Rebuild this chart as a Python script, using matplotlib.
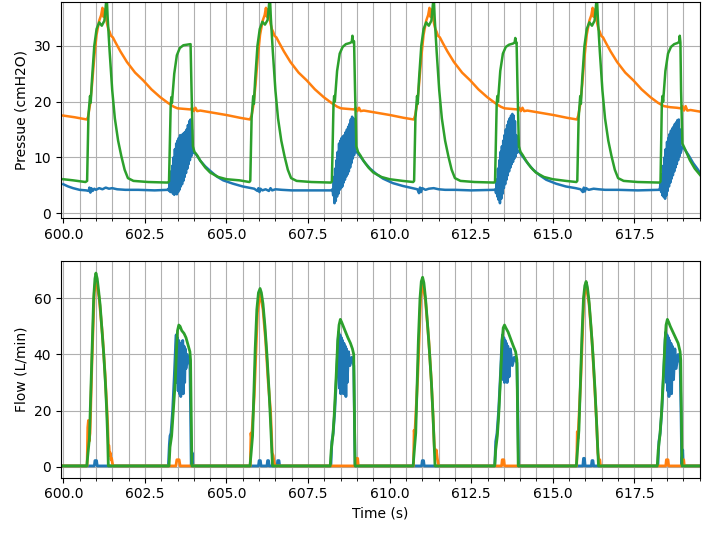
import matplotlib
matplotlib.use("Agg")
import matplotlib.pyplot as plt
from matplotlib.ticker import MultipleLocator

# ---------------- Pressure panel data (time s, cmH2O) ----------------
P_BLUE = [
    (600.00, 5.2), (600.15, 4.8), (600.30, 4.5), (600.50, 4.2), (600.70, 4.1), (600.78, 4.0),
    (600.80, 4.6), (600.83, 3.7), (600.86, 4.5), (600.90, 4.0), (600.95, 4.4), (601.00, 4.2),
    (601.10, 4.5), (601.20, 4.3), (601.30, 4.6), (601.40, 4.4), (601.50, 4.5), (601.65, 4.3),
    (601.90, 4.2), (602.30, 4.2), (602.80, 4.1), (603.20, 4.2),
    (603.22, 4.4), (603.24, 4.0), (603.26, 6.0), (603.28, 3.8), (603.30, 7.5), (603.32, 4.0),
    (603.34, 8.5), (603.36, 3.5), (603.38, 10.0), (603.40, 3.3), (603.42, 11.5), (603.44, 3.6),
    (603.46, 12.5), (603.48, 3.4), (603.50, 13.0), (603.52, 3.8), (603.54, 13.5), (603.56, 4.2),
    (603.58, 14.0), (603.60, 4.8), (603.62, 13.8), (603.64, 5.2), (603.66, 14.2), (603.68, 5.8),
    (603.70, 14.4), (603.72, 6.5), (603.74, 14.6), (603.76, 7.2), (603.78, 15.0), (603.80, 8.0),
    (603.82, 15.8), (603.84, 8.8), (603.86, 16.5), (603.88, 9.5), (603.90, 16.8), (603.92, 10.2),
    (603.94, 15.0), (603.96, 11.0), (604.00, 10.8), (604.05, 10.7), (604.10, 10.3), (604.20, 9.4),
    (604.35, 8.4), (604.50, 7.6), (604.70, 6.6), (604.90, 5.9), (605.20, 5.3), (605.50, 4.8),
    (605.75, 4.5), (605.85, 4.4), (605.95, 4.0), (605.98, 4.5), (606.01, 3.8), (606.04, 4.4),
    (606.10, 4.1), (606.20, 4.3), (606.30, 4.0), (606.35, 4.5), (606.40, 4.1), (606.50, 4.3),
    (606.70, 4.2), (607.00, 4.1), (607.50, 4.1), (608.20, 4.1),
    (608.25, 4.3), (608.27, 3.2), (608.29, 6.5), (608.31, 1.8), (608.33, 8.0), (608.35, 2.2),
    (608.37, 9.5), (608.39, 3.0), (608.41, 11.0), (608.43, 3.5), (608.45, 12.5), (608.47, 4.2),
    (608.49, 13.0), (608.51, 4.5), (608.53, 13.5), (608.55, 4.8), (608.57, 13.8), (608.59, 5.5),
    (608.61, 14.0), (608.63, 6.0), (608.65, 14.5), (608.67, 6.6), (608.69, 15.0), (608.71, 7.0),
    (608.73, 15.5), (608.75, 7.5), (608.77, 16.0), (608.79, 8.2), (608.81, 16.8), (608.83, 9.0),
    (608.85, 17.3), (608.87, 9.8), (608.89, 17.0), (608.91, 10.4), (608.93, 15.5), (608.95, 11.0),
    (609.00, 10.9), (609.10, 10.2), (609.25, 9.0), (609.40, 8.0), (609.60, 7.0), (609.80, 6.2),
    (610.10, 5.4), (610.40, 4.9), (610.70, 4.5), (610.85, 4.3), (610.90, 3.6), (610.93, 4.6),
    (610.96, 3.8), (611.00, 4.5), (611.10, 4.2), (611.20, 4.4), (611.35, 4.5), (611.50, 4.3),
    (611.70, 4.2), (612.00, 4.2), (612.50, 4.1), (613.20, 4.2),
    (613.24, 4.3), (613.26, 3.6), (613.28, 6.0), (613.30, 3.0), (613.32, 8.0), (613.34, 2.4),
    (613.36, 9.5), (613.38, 1.8), (613.40, 11.0), (613.42, 2.6), (613.44, 12.0), (613.46, 3.5),
    (613.48, 13.0), (613.50, 4.5), (613.52, 14.0), (613.54, 5.2), (613.56, 15.0), (613.58, 6.0),
    (613.60, 15.8), (613.62, 6.8), (613.64, 16.5), (613.66, 7.5), (613.68, 17.0), (613.70, 8.2),
    (613.72, 17.5), (613.74, 8.8), (613.76, 17.8), (613.78, 9.2), (613.80, 17.5), (613.82, 9.8),
    (613.84, 16.5), (613.86, 10.2), (613.88, 14.0), (613.90, 10.8), (613.95, 11.2), (614.00, 10.8),
    (614.10, 10.0), (614.25, 8.8), (614.40, 7.8), (614.60, 6.8), (614.80, 6.0), (615.10, 5.3),
    (615.40, 4.8), (615.70, 4.5), (615.85, 4.3), (615.92, 3.8), (615.95, 4.6), (615.98, 3.9),
    (616.02, 4.5), (616.10, 4.2), (616.25, 4.4), (616.40, 4.3), (616.60, 4.2), (617.00, 4.2),
    (617.60, 4.1), (618.25, 4.2),
    (618.28, 4.3), (618.30, 5.5), (618.32, 3.8), (618.34, 7.0), (618.36, 3.2), (618.38, 8.5),
    (618.40, 2.9), (618.42, 10.0), (618.44, 2.6), (618.46, 11.5), (618.48, 3.2), (618.50, 12.8),
    (618.52, 4.0), (618.54, 13.5), (618.56, 4.8), (618.58, 14.2), (618.60, 5.5), (618.62, 14.8),
    (618.64, 6.2), (618.66, 15.2), (618.68, 6.8), (618.70, 15.5), (618.72, 7.5), (618.74, 16.0),
    (618.76, 8.2), (618.78, 16.3), (618.80, 8.8), (618.82, 16.7), (618.84, 9.5), (618.86, 16.8),
    (618.88, 10.2), (618.90, 15.0), (618.92, 10.8), (618.96, 11.8), (619.00, 11.8), (619.15, 10.5),
    (619.30, 9.0), (619.45, 7.8), (619.52, 7.1),
]

P_ORANGE = [
    (600.00, 17.5), (600.35, 17.2), (600.72, 16.8), (600.76, 17.3), (600.82, 19.5), (600.88, 23.0),
    (600.95, 28.0), (601.02, 32.0), (601.10, 34.5), (601.16, 35.5), (601.20, 36.8), (601.23, 35.2),
    (601.26, 36.5), (601.30, 35.8), (601.34, 34.0), (601.38, 33.0), (601.42, 32.5), (601.46, 31.8),
    (601.52, 31.5), (601.60, 30.6), (601.75, 29.0), (601.95, 27.1), (602.20, 25.2), (602.45, 23.8),
    (602.70, 22.2), (602.97, 20.8), (603.20, 19.8), (603.38, 19.1), (603.50, 18.8), (603.70, 18.7),
    (603.90, 18.6), (603.95, 18.9), (604.00, 18.3), (604.05, 18.9), (604.10, 18.3), (604.20, 18.4),
    (604.60, 18.0), (605.00, 17.6), (605.42, 17.1), (605.72, 16.8),
    (605.77, 17.5), (605.83, 19.5), (605.89, 23.0), (605.96, 28.0), (606.03, 32.0), (606.11, 34.5),
    (606.17, 35.5), (606.21, 36.8), (606.24, 35.2), (606.27, 36.5), (606.31, 35.8), (606.35, 34.0),
    (606.39, 33.0), (606.43, 32.5), (606.47, 31.8), (606.53, 31.5), (606.61, 30.6), (606.76, 29.0),
    (606.96, 27.1), (607.21, 25.2), (607.46, 23.8), (607.71, 22.2), (607.98, 20.8), (608.21, 19.8),
    (608.39, 19.1), (608.51, 18.8), (608.71, 18.7), (608.91, 18.6), (608.96, 18.9), (609.01, 18.3),
    (609.06, 18.9), (609.11, 18.3), (609.21, 18.4), (609.61, 18.0), (610.01, 17.6), (610.43, 17.1),
    (610.74, 16.8),
    (610.78, 17.5), (610.84, 19.5), (610.90, 23.0), (610.97, 28.0), (611.04, 32.0), (611.12, 34.5),
    (611.18, 35.5), (611.22, 36.8), (611.25, 35.2), (611.28, 36.5), (611.32, 35.8), (611.36, 34.0),
    (611.40, 33.0), (611.44, 32.5), (611.48, 31.8), (611.54, 31.5), (611.62, 30.6), (611.77, 29.0),
    (611.97, 27.1), (612.22, 25.2), (612.47, 23.8), (612.72, 22.2), (612.99, 20.8), (613.22, 19.8),
    (613.40, 19.1), (613.52, 18.8), (613.72, 18.7), (613.92, 18.6), (613.97, 18.9), (614.02, 18.3),
    (614.07, 18.9), (614.12, 18.3), (614.22, 18.4), (614.62, 18.0), (615.02, 17.6), (615.44, 17.1),
    (615.74, 16.8),
    (615.78, 17.5), (615.84, 19.5), (615.90, 23.0), (615.97, 28.0), (616.04, 32.0), (616.12, 34.5),
    (616.18, 35.5), (616.22, 36.8), (616.25, 35.2), (616.28, 36.5), (616.32, 35.8), (616.36, 34.0),
    (616.40, 33.0), (616.44, 32.5), (616.48, 31.8), (616.54, 31.5), (616.62, 30.6), (616.77, 29.0),
    (616.97, 27.1), (617.22, 25.2), (617.47, 23.8), (617.72, 22.2), (617.99, 20.8), (618.22, 19.8),
    (618.40, 19.2), (618.60, 19.0), (618.80, 18.9), (618.92, 18.8), (618.97, 19.2), (619.02, 18.4),
    (619.07, 19.2), (619.12, 18.4), (619.22, 18.5), (619.52, 18.2),
]

P_GREEN = [
    (600.00, 6.1), (600.30, 5.9), (600.68, 5.6), (600.73, 5.8), (600.77, 17.5), (600.80, 19.5),
    (600.82, 21.0), (600.84, 19.8), (600.88, 24.0), (600.95, 30.0), (601.02, 33.0), (601.10, 34.2),
    (601.18, 33.6), (601.26, 34.5), (601.30, 37.0), (601.33, 39.0), (601.36, 35.0), (601.42, 29.0),
    (601.50, 22.0), (601.58, 17.0), (601.68, 13.0), (601.78, 10.2), (601.88, 7.8), (601.98, 6.3),
    (602.15, 5.8), (602.60, 5.6), (603.20, 5.5), (603.24, 5.7), (603.29, 19.0), (603.31, 20.8),
    (603.33, 19.8), (603.40, 25.0), (603.48, 28.3), (603.57, 29.6), (603.68, 30.1), (603.80, 30.2),
    (603.90, 30.3), (603.93, 22.0), (603.97, 12.0), (604.02, 11.0), (604.10, 10.4), (604.20, 9.4),
    (604.35, 8.2), (604.50, 7.3), (604.75, 6.5), (605.00, 6.1), (605.40, 5.9), (605.70, 5.6),
    (605.73, 5.8), (605.77, 17.0), (605.80, 19.5), (605.82, 21.0), (605.84, 19.6), (605.88, 24.0),
    (605.95, 30.0), (606.02, 33.0), (606.10, 34.3), (606.18, 33.8), (606.26, 34.6), (606.30, 37.0),
    (606.33, 39.0), (606.36, 35.0), (606.42, 29.0), (606.50, 22.0), (606.58, 17.0), (606.68, 13.0),
    (606.78, 10.2), (606.88, 7.8), (606.98, 6.3), (607.15, 5.8), (607.60, 5.6), (608.20, 5.5),
    (608.23, 5.7), (608.28, 19.5), (608.30, 21.0), (608.32, 20.0), (608.39, 25.5), (608.47, 28.6),
    (608.56, 29.8), (608.66, 30.3), (608.78, 30.5), (608.84, 30.7), (608.86, 31.8), (608.88, 30.6),
    (608.91, 30.8), (608.94, 22.0), (608.98, 12.0), (609.03, 11.0), (609.10, 10.4), (609.20, 9.4),
    (609.35, 8.2), (609.50, 7.3), (609.75, 6.5), (610.00, 6.1), (610.40, 5.8), (610.72, 5.6),
    (610.75, 5.8), (610.79, 17.0), (610.82, 19.5), (610.84, 21.0), (610.86, 19.6), (610.90, 24.0),
    (610.97, 30.0), (611.04, 33.0), (611.12, 34.2), (611.20, 33.6), (611.28, 34.5), (611.32, 37.0),
    (611.35, 39.0), (611.38, 35.0), (611.44, 29.0), (611.52, 22.0), (611.60, 17.0), (611.70, 13.0),
    (611.80, 10.2), (611.90, 7.8), (612.00, 6.3), (612.17, 5.8), (612.60, 5.6), (613.20, 5.5),
    (613.23, 5.7), (613.28, 19.5), (613.30, 21.0), (613.32, 20.0), (613.39, 25.5), (613.47, 28.6),
    (613.56, 29.8), (613.66, 30.2), (613.78, 30.4), (613.83, 30.6), (613.85, 31.4), (613.87, 30.5),
    (613.89, 30.6), (613.92, 22.0), (613.96, 12.0), (614.01, 11.0), (614.08, 10.4), (614.18, 9.4),
    (614.33, 8.2), (614.48, 7.3), (614.73, 6.5), (615.00, 6.1), (615.40, 5.8), (615.72, 5.6),
    (615.75, 5.8), (615.79, 17.0), (615.82, 19.5), (615.84, 21.0), (615.86, 19.6), (615.90, 24.0),
    (615.97, 30.0), (616.04, 33.0), (616.12, 34.2), (616.20, 33.6), (616.28, 34.5), (616.32, 37.0),
    (616.35, 39.0), (616.38, 35.0), (616.44, 29.0), (616.52, 22.0), (616.60, 17.0), (616.70, 13.0),
    (616.80, 10.2), (616.90, 7.8), (617.00, 6.3), (617.17, 5.8), (617.60, 5.6), (618.27, 5.5),
    (618.30, 5.7), (618.34, 19.5), (618.36, 21.0), (618.38, 20.0), (618.45, 25.5), (618.53, 28.6),
    (618.62, 29.8), (618.72, 30.3), (618.82, 30.5), (618.87, 30.7), (618.89, 31.8), (618.91, 30.6),
    (618.93, 22.0), (618.97, 12.5), (619.05, 11.5), (619.20, 9.5), (619.35, 8.0), (619.52, 6.8),
]

# ---------------- Flow panel data (time s, L/min) ----------------
F_BLUE = [
    (600.00, 0.3), (600.95, 0.3), (600.97, 2.2), (601.02, 2.2), (601.04, 0.3), (603.22, 0.3),
    (603.25, 8.0), (603.27, 11.0), (603.30, 12.0), (603.35, 20.0), (603.40, 32.0), (603.44, 43.0),
    (603.46, 47.0), (603.48, 30.0), (603.50, 46.0), (603.52, 27.0), (603.54, 45.0), (603.56, 26.0),
    (603.58, 44.0), (603.60, 25.0), (603.62, 42.0), (603.64, 28.0), (603.66, 45.0), (603.68, 26.0),
    (603.70, 43.0), (603.72, 30.0), (603.74, 42.0), (603.76, 35.0), (603.80, 40.0), (603.84, 38.0),
    (603.88, 36.0), (603.90, 20.0), (603.92, 0.3), (603.95, 5.0), (603.97, 0.3),
    (605.98, 0.3), (606.00, 2.2), (606.04, 2.2), (606.06, 0.3), (606.24, 0.3), (606.26, 2.2),
    (606.29, 2.2), (606.31, 0.3), (606.55, 0.3), (606.57, 2.2), (606.61, 2.2), (606.63, 0.3),
    (608.20, 0.3), (608.23, 9.0), (608.27, 12.0), (608.32, 20.0), (608.38, 34.0), (608.42, 45.0),
    (608.44, 48.0), (608.46, 28.0), (608.48, 47.0), (608.50, 26.0), (608.52, 46.0), (608.54, 31.0),
    (608.56, 45.0), (608.58, 26.0), (608.60, 44.0), (608.62, 33.0), (608.64, 43.0), (608.66, 25.0),
    (608.68, 42.0), (608.70, 30.0), (608.74, 41.0), (608.78, 36.0), (608.84, 39.0), (608.90, 36.0),
    (608.92, 18.0), (608.94, 0.3),
    (610.98, 0.3), (611.00, 2.2), (611.04, 2.2), (611.06, 0.3),
    (613.22, 0.3), (613.25, 9.0), (613.29, 12.0), (613.34, 20.0), (613.40, 34.0), (613.44, 45.0),
    (613.46, 47.0), (613.48, 31.0), (613.50, 46.0), (613.52, 30.0), (613.54, 45.0), (613.56, 33.0),
    (613.58, 44.0), (613.60, 30.0), (613.62, 43.0), (613.66, 32.0), (613.70, 42.0), (613.76, 36.0),
    (613.82, 39.0), (613.90, 37.0), (613.93, 18.0), (613.95, 0.3),
    (615.92, 0.3), (615.94, 3.0), (615.97, 3.0), (615.99, 0.3), (616.18, 0.3), (616.20, 2.2),
    (616.23, 2.2), (616.25, 0.3),
    (618.22, 0.3), (618.25, 9.0), (618.29, 12.0), (618.34, 20.0), (618.40, 34.0), (618.44, 45.0),
    (618.46, 48.0), (618.48, 30.0), (618.50, 47.0), (618.52, 27.0), (618.54, 46.0), (618.56, 25.0),
    (618.58, 45.0), (618.60, 29.0), (618.62, 44.0), (618.64, 26.0), (618.66, 43.0), (618.70, 31.0),
    (618.74, 42.0), (618.78, 35.0), (618.84, 40.0), (618.90, 37.0), (618.93, 18.0), (618.95, 0.3),
    (618.98, 6.0), (619.00, 0.3), (619.52, 0.3),
]

F_ORANGE = [
    (600.00, 0.3), (600.73, 0.3), (600.75, 14.0), (600.77, 16.5), (600.79, 9.0), (600.82, 12.0),
    (600.88, 38.0), (600.95, 62.0), (601.00, 67.0), (601.10, 60.0), (601.20, 47.0), (601.28, 33.0),
    (601.33, 22.0), (601.36, 15.0), (601.38, 8.0), (601.40, 7.5), (601.42, 4.0), (601.44, 5.0),
    (601.46, 2.5), (601.48, 3.0), (601.52, 0.3), (603.45, 0.3), (603.48, 2.5), (603.55, 2.5),
    (603.58, 0.3),
    (605.73, 0.3), (605.75, 12.0), (605.77, 10.0), (605.85, 25.0), (605.95, 55.0), (606.03, 62.0),
    (606.12, 56.0), (606.20, 45.0), (606.28, 30.0), (606.35, 20.0), (606.38, 12.0), (606.40, 5.0),
    (606.43, 4.0), (606.46, 1.5), (606.50, 0.3), (608.97, 0.3), (608.99, 3.0), (609.02, 3.0),
    (609.04, 0.3),
    (610.73, 0.3), (610.75, 13.0), (610.77, 11.0), (610.86, 32.0), (610.95, 60.0), (611.01, 66.0),
    (611.10, 59.0), (611.20, 45.0), (611.28, 30.0), (611.33, 18.0), (611.37, 7.0), (611.40, 5.0),
    (611.43, 6.0), (611.46, 3.0), (611.50, 0.3), (613.43, 0.3), (613.45, 2.5), (613.50, 2.5),
    (613.52, 0.3),
    (615.73, 0.3), (615.75, 12.5), (615.77, 10.0), (615.86, 32.0), (615.95, 60.0), (616.02, 65.0),
    (616.11, 58.0), (616.20, 45.0), (616.28, 29.0), (616.34, 16.0), (616.38, 5.0), (616.41, 2.5),
    (616.44, 2.5), (616.46, 0.3), (618.46, 0.3), (618.48, 2.5), (618.53, 2.5), (618.55, 0.3),
    (618.96, 0.3), (618.98, 2.5), (619.01, 2.5), (619.03, 0.3), (619.52, 0.3),
]

F_GREEN = [
    (600.00, 0.3), (600.72, 0.3), (600.75, 4.0), (600.80, 10.0), (600.84, 25.0), (600.88, 40.0),
    (600.93, 60.0), (600.97, 67.0), (601.00, 69.0), (601.04, 67.0), (601.08, 63.0), (601.13, 57.5),
    (601.19, 48.0), (601.24, 40.0), (601.29, 30.0), (601.33, 20.0), (601.36, 10.0), (601.38, 0.3),
    (603.24, 0.3), (603.27, 7.0), (603.32, 11.0), (603.36, 18.0), (603.43, 30.0), (603.47, 42.0),
    (603.50, 48.5), (603.54, 50.5), (603.58, 50.0), (603.63, 48.5), (603.70, 47.5), (603.76, 46.0),
    (603.82, 43.5), (603.88, 41.0), (603.90, 38.0), (603.92, 20.0), (603.94, 0.3),
    (605.72, 0.3), (605.75, 4.0), (605.80, 11.0), (605.84, 27.0), (605.88, 42.0), (605.93, 56.0),
    (605.98, 62.0), (606.03, 63.5), (606.07, 62.0), (606.12, 58.0), (606.18, 50.0), (606.24, 40.0),
    (606.30, 28.0), (606.35, 16.0), (606.39, 5.0), (606.41, 0.3),
    (608.18, 0.3), (608.21, 6.0), (608.26, 11.0), (608.30, 18.0), (608.36, 32.0), (608.41, 45.0),
    (608.45, 50.5), (608.49, 52.5), (608.53, 51.5), (608.58, 50.0), (608.65, 48.0), (608.72, 46.0),
    (608.80, 44.0), (608.86, 42.0), (608.90, 40.0), (608.92, 20.0), (608.94, 0.3),
    (610.72, 0.3), (610.75, 5.0), (610.80, 12.0), (610.84, 28.0), (610.88, 45.0), (610.93, 60.0),
    (610.97, 66.0), (611.01, 67.5), (611.05, 65.5), (611.10, 60.0), (611.16, 51.0), (611.22, 41.0),
    (611.28, 30.0), (611.33, 18.0), (611.37, 6.0), (611.39, 0.3),
    (613.22, 0.3), (613.25, 6.0), (613.30, 11.0), (613.34, 18.0), (613.40, 32.0), (613.45, 45.0),
    (613.48, 49.5), (613.52, 50.5), (613.56, 49.5), (613.63, 48.0), (613.71, 45.5), (613.79, 43.0),
    (613.86, 41.0), (613.90, 38.0), (613.92, 18.0), (613.94, 0.3),
    (615.72, 0.3), (615.75, 5.0), (615.80, 13.0), (615.84, 28.0), (615.89, 46.0), (615.94, 60.0),
    (615.98, 64.5), (616.02, 66.0), (616.06, 64.0), (616.11, 59.0), (616.17, 50.0), (616.23, 40.0),
    (616.29, 28.0), (616.34, 16.0), (616.38, 5.0), (616.40, 0.3),
    (618.20, 0.3), (618.23, 6.0), (618.28, 11.0), (618.33, 19.0), (618.39, 33.0), (618.44, 45.0),
    (618.47, 50.5), (618.51, 52.5), (618.55, 51.5), (618.60, 50.0), (618.68, 48.0), (618.76, 46.0),
    (618.84, 44.0), (618.90, 41.0), (618.92, 38.0), (618.94, 18.0), (618.96, 0.3), (619.52, 0.3),
]

X_TICKS = [600.0, 602.5, 605.0, 607.5, 610.0, 612.5, 615.0, 617.5]
P_YTICKS = [0, 10, 20, 30]
F_YTICKS = [0, 20, 40, 60]

fig = plt.figure(figsize=(7.03, 5.33), dpi=100)
W, H = 703.0, 533.0
ax1 = fig.add_axes([61 / W, (H - 218.3) / H, 639 / W, 216.6 / H])
ax2 = fig.add_axes([61 / W, (H - 477.7) / H, 639 / W, 216.7 / H])


def draw(ax, series, lw):
    for data, col in series:
        t, v = zip(*data)
        ax.plot(t, v, color=col, lw=lw)


draw(ax1, [(P_BLUE, "C0"), (P_ORANGE, "C1"), (P_GREEN, "C2")], 1.8)
draw(ax2, [(F_BLUE, "C0"), (F_ORANGE, "C1"), (F_GREEN, "C2")], 2.0)

for ax in (ax1, ax2):
    ax.set_xlim(599.93, 619.51)
    ax.set_xticks(X_TICKS)
    ax.set_xticklabels([f"{x:.1f}" for x in X_TICKS])
    ax.xaxis.set_minor_locator(MultipleLocator(0.5))
    ax.grid(which="both", axis="x")
    ax.grid(which="major", axis="y")

ax1.set_ylim(-0.9, 37.9)
ax1.set_yticks(P_YTICKS)
ax1.set_ylabel("Pressue (cmH2O)")
ax2.set_ylim(-3.9, 73.3)
ax2.set_yticks(F_YTICKS)
ax2.set_ylabel("Flow (L/min)")
ax2.set_xlabel("Time (s)")

fig.savefig("out.png", dpi=100)
